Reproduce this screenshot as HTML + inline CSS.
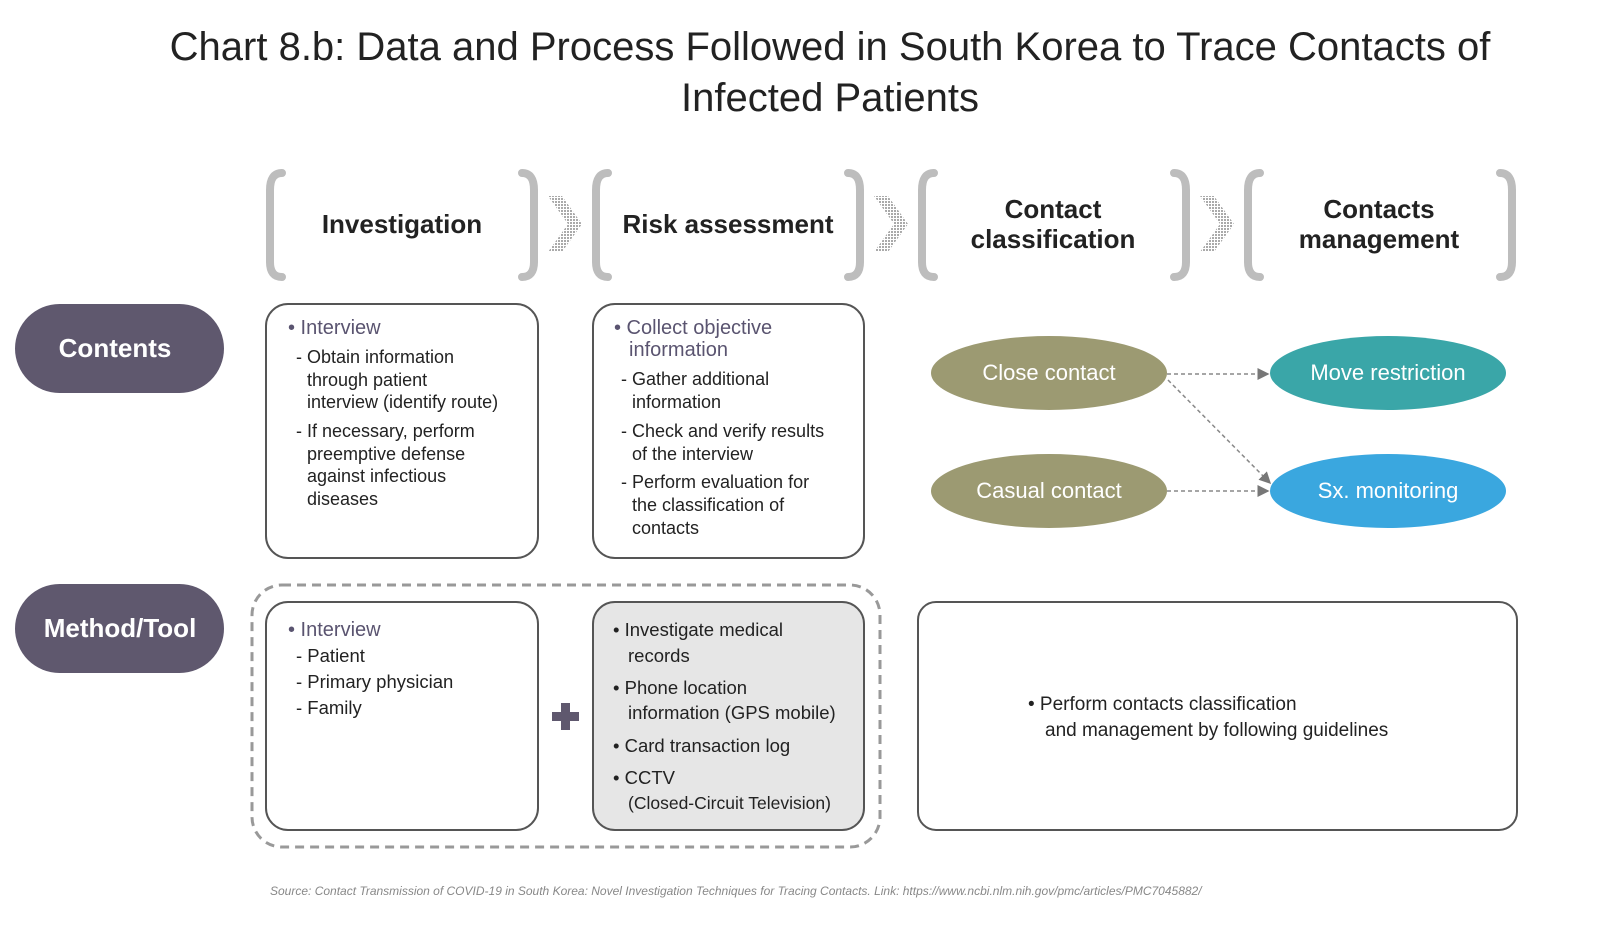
<!DOCTYPE html>
<html><head><meta charset="utf-8"><style>
html,body{margin:0;padding:0;background:#fff;}
svg{display:block}
text{font-family:"Liberation Sans",sans-serif;}
</style></head><body>
<svg width="1600" height="929" viewBox="0 0 1600 929" xmlns="http://www.w3.org/2000/svg">
<defs>
<pattern id="dots" width="3" height="3" patternUnits="userSpaceOnUse"><rect width="3" height="3" fill="#fff"/><rect width="2" height="2" fill="#aaa"/></pattern>
<marker id="ah" markerWidth="8" markerHeight="8" refX="7" refY="4" orient="auto"><path d="M0,0 L8,4 L0,8 z" fill="#777"/></marker>
</defs>
<text x="830" y="60" font-size="40" text-anchor="middle" fill="#222">Chart 8.b: Data and Process Followed in South Korea to Trace Contacts of</text>
<text x="830" y="111" font-size="40" text-anchor="middle" fill="#222">Infected Patients</text>

<g fill="none" stroke="#bdbdbd" stroke-width="8" stroke-linecap="round">
<path d="M282,173 Q270,173 270,190 L270,262 Q270,277 282,277"/><path d="M522,173 Q534,173 534,190 L534,262 Q534,277 522,277"/>
<path d="M608,173 Q596,173 596,190 L596,262 Q596,277 608,277"/><path d="M848,173 Q860,173 860,190 L860,262 Q860,277 848,277"/>
<path d="M934,173 Q922,173 922,190 L922,262 Q922,277 934,277"/><path d="M1174,173 Q1186,173 1186,190 L1186,262 Q1186,277 1174,277"/>
<path d="M1260,173 Q1248,173 1248,190 L1248,262 Q1248,277 1260,277"/><path d="M1500,173 Q1512,173 1512,190 L1512,262 Q1512,277 1500,277"/>
</g>
<g fill="url(#dots)">
<path d="M548,196 L562,196 L582,224 L562,252 L548,252 L568,224 z"/>
<path d="M874,196 L888,196 L908,224 L888,252 L874,252 L894,224 z"/>
<path d="M1200,196 L1214,196 L1234,224 L1214,252 L1200,252 L1220,224 z"/>
</g>
<g font-size="26" font-weight="bold" fill="#222" text-anchor="middle">
<text x="402" y="233">Investigation</text>
<text x="728" y="233">Risk assessment</text>
<text x="1053" y="218">Contact</text><text x="1053" y="248">classification</text>
<text x="1379" y="218">Contacts</text><text x="1379" y="248">management</text>
</g>

<rect x="15" y="304" width="209" height="89" rx="44.5" fill="#5f586e"/>
<text x="115" y="357" font-size="26" font-weight="bold" fill="#fff" text-anchor="middle">Contents</text>
<rect x="15" y="584" width="209" height="89" rx="44.5" fill="#5f586e"/>
<text x="120" y="637" font-size="26" font-weight="bold" fill="#fff" text-anchor="middle">Method/Tool</text>

<rect x="266" y="304" width="272" height="254" rx="22" fill="#fff" stroke="#555" stroke-width="2"/>
<rect x="593" y="304" width="271" height="254" rx="22" fill="#fff" stroke="#555" stroke-width="2"/>
<g font-size="18" fill="#222">
<text x="288" y="334" font-size="20" fill="#5a5470">• Interview</text>
<text x="296" y="363">- Obtain information</text>
<text x="307" y="386">through patient</text>
<text x="307" y="408">interview (identify route)</text>
<text x="296" y="437">- If necessary, perform</text>
<text x="307" y="460">preemptive defense</text>
<text x="307" y="482">against infectious</text>
<text x="307" y="505">diseases</text>
<text x="614" y="334" font-size="20" fill="#5a5470">• Collect objective</text>
<text x="629" y="356" font-size="20" fill="#5a5470">information</text>
<text x="621" y="385">- Gather additional</text>
<text x="632" y="408">information</text>
<text x="621" y="437">- Check and verify results</text>
<text x="632" y="460">of the interview</text>
<text x="621" y="488">- Perform evaluation for</text>
<text x="632" y="511">the classification of</text>
<text x="632" y="534">contacts</text>
</g>

<g stroke="#888" stroke-width="1.5" stroke-dasharray="4,3" fill="none">
<line x1="1167" y1="374" x2="1268" y2="374" marker-end="url(#ah)"/>
<line x1="1167" y1="491" x2="1268" y2="491" marker-end="url(#ah)"/>
<line x1="1168" y1="380" x2="1270" y2="483" marker-end="url(#ah)"/>
</g>
<ellipse cx="1049" cy="373" rx="118" ry="37" fill="#9c9a72"/>
<ellipse cx="1049" cy="491" rx="118" ry="37" fill="#9c9a72"/>
<ellipse cx="1388" cy="373" rx="118" ry="37" fill="#3aa6a8"/>
<ellipse cx="1388" cy="491" rx="118" ry="37" fill="#3aa7df"/>
<g font-size="22" fill="#fff" text-anchor="middle">
<text x="1049" y="380">Close contact</text>
<text x="1049" y="498">Casual contact</text>
<text x="1388" y="380">Move restriction</text>
<text x="1388" y="498">Sx. monitoring</text>
</g>

<rect x="252" y="585" width="628" height="262" rx="30" fill="none" stroke="#999" stroke-width="3" stroke-dasharray="9,6"/>
<rect x="266" y="602" width="272" height="228" rx="22" fill="#fff" stroke="#555" stroke-width="2"/>
<rect x="593" y="602" width="271" height="228" rx="22" fill="#e6e6e6" stroke="#555" stroke-width="2"/>
<path d="M561,703 h9 v9 h9 v9 h-9 v9 h-9 v-9 h-9 v-9 h9 z" fill="#5f586e"/>
<g font-size="18.5" fill="#222">
<text x="288" y="636" font-size="20" fill="#5a5470">• Interview</text>
<text x="296" y="662">- Patient</text>
<text x="296" y="688">- Primary physician</text>
<text x="296" y="714">- Family</text>
<text x="613" y="636">• Investigate medical</text>
<text x="628" y="662">records</text>
<text x="613" y="694">• Phone location</text>
<text x="628" y="719">information (GPS mobile)</text>
<text x="613" y="752">• Card transaction log</text>
<text x="613" y="784">• CCTV</text>
<text x="628" y="809" font-size="17.5">(Closed-Circuit Television)</text>
</g>

<rect x="918" y="602" width="599" height="228" rx="18" fill="#fff" stroke="#555" stroke-width="2"/>
<g font-size="19" fill="#222">
<text x="1028" y="710">• Perform contacts classification</text>
<text x="1045" y="736">and management by following guidelines</text>
</g>

<text x="270" y="895" font-size="12" font-style="italic" fill="#888">Source: Contact Transmission of COVID-19 in South Korea: Novel Investigation Techniques for Tracing Contacts. Link: https://www.ncbi.nlm.nih.gov/pmc/articles/PMC7045882/</text>
</svg>
</body></html>
